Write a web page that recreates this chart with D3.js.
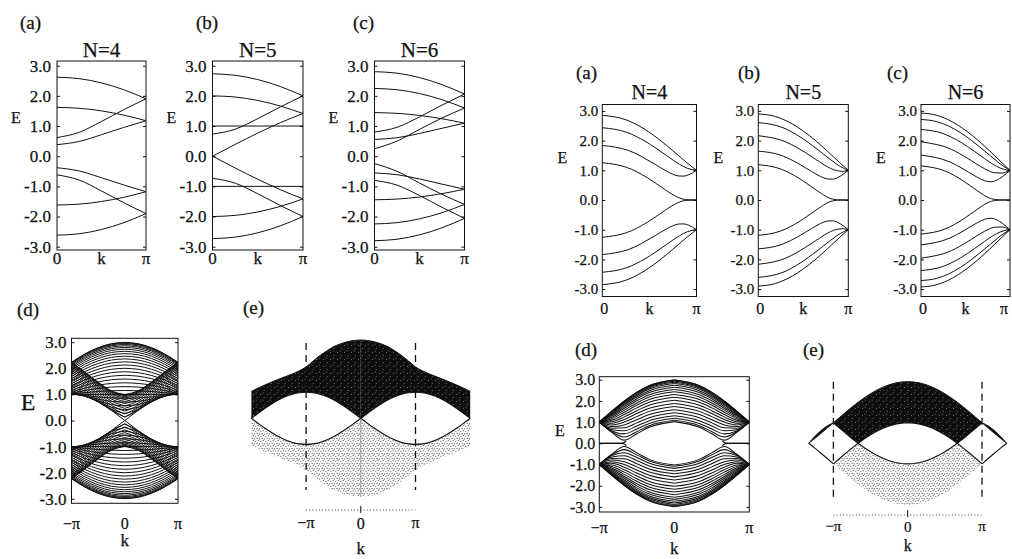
<!DOCTYPE html>
<html>
<head>
<meta charset="utf-8">
<script src="https://cdn.jsdelivr.net/npm/d3@7"></script>
<style>
  body { margin: 0; background: #fff; }
  svg { display: block; }
  svg text { stroke: #111; stroke-width: 0.25px; }
</style>
</head>
<body>
<svg id="fig" width="1012" height="559"></svg>
<script>
// ---------- band data (energies in units of t, k in units of pi) ----------

// common k/pi sample grid for the armchair tables
const kArm = [0, 0.25, 0.5, 0.75, 1];

// armchair ribbons: conduction bands, valence bands are their mirror E -> -E
const armN4 = [
  [2.618, 2.571, 2.430, 2.204, 1.902],
  [1.618, 1.589, 1.502, 1.362, 1.176],
  [0.382, 0.490, 0.713, 0.953, 1.176],
  [0.618, 0.792, 1.153, 1.543, 1.902]
];
const armN5 = [
  [2.732, 2.683, 2.540, 2.308, 2.000],
  [2.000, 1.962, 1.848, 1.663, 1.414],
  [1.000, 1.000, 1.000, 1.000, 1.000],
  [0.000, 0.390, 0.765, 1.111, 1.414],
  [0.732, 0.894, 1.245, 1.635, 2.000]
];
const armN6 = [
  [2.802, 2.753, 2.607, 2.372, 2.061],
  [2.246, 2.203, 2.077, 1.872, 1.598],
  [1.445, 1.421, 1.352, 1.241, 1.095],
  [0.555, 0.613, 0.754, 0.926, 1.095],
  [0.246, 0.500, 0.889, 1.265, 1.598],
  [0.802, 0.958, 1.303, 1.694, 2.061]
];

// zigzag ribbons: [k/pi, E] points of each conduction band
const zigN4 = [
  [[0,2.851],[0.2515,2.700],[0.410,2.459],[0.580,2.095],[0.683,1.836],[0.811,1.490],[0.892,1.271],[1,1.0]],
  [[0,2.433],[0.258,2.281],[0.454,1.980],[0.681,1.500],[0.818,1.206],[0.905,1.064],[1,1.0]],
  [[0,1.837],[0.274,1.672],[0.555,1.212],[0.677,0.981],[0.753,0.863],[0.811,0.808],[0.8635,0.804],[0.919,0.852],[0.957,0.913],[1,1.0]],
  [[0,1.255],[0.266,1.090],[0.347,0.981],[0.478,0.748],[0.582,0.532],[0.671,0.338],[0.7205,0.231],[0.738,0.200],[0.769,0.144],[0.824,0.064],[0.882,0.014],[1,0]]
];
const zigN5 = [
  [[0,2.899],[0.188,2.814],[0.319,2.655],[0.437,2.452],[0.650,1.963],[0.765,1.652],[0.898,1.276],[1,1]],
  [[0,2.607],[0.2746,2.434],[0.4637,2.127],[0.651,1.719],[0.7986,1.368],[0.911,1.128],[1,1]],
  [[0,2.164],[0.308,1.954],[0.424,1.777],[0.615,1.415],[0.769,1.1185],[0.8654,0.993],[0.944,0.966],[1,1]],
  [[0,1.646],[0.2555,1.502],[0.360,1.3655],[0.5886,0.968],[0.693,0.790],[0.7625,0.712],[0.8208,0.6995],[0.8829,0.755],[0.9467,0.873],[1,1]],
  [[0,1.190],[0.2486,1.044],[0.3516,0.9056],[0.5496,0.535],[0.6633,0.292],[0.715,0.188],[0.7264,0.167],[0.764,0.103],[0.8233,0.033],[0.882,0.005],[1,0]]
];
const zigN6 = [
  [[0,2.926],[0.151,2.871],[0.3048,2.705],[0.4238,2.503],[0.593,2.131],[0.7725,1.650],[0.907,1.262],[1,1]],
  [[0,2.712],[0.171,2.643],[0.3142,2.484],[0.4433,2.268],[0.696,1.698],[0.8636,1.281],[0.9316,1.127],[1,1]],
  [[0,2.377],[0.2554,2.230],[0.4106,2.008],[0.5255,1.794],[0.6686,1.493],[0.8495,1.134],[0.940,1.023],[1,1]],
  [[0,1.957],[0.3436,1.703],[0.5183,1.413],[0.7154,1.052],[0.8254,0.918],[0.914,0.908],[0.9505,0.935],[1,1]],
  [[0,1.512],[0.3228,1.283],[0.4717,1.051],[0.6338,0.761],[0.7198,0.643],[0.7837,0.614],[0.8482,0.663],[0.9192,0.795],[1,1]],
  [[0,1.147],[0.2663,0.981],[0.374,0.828],[0.5488,0.491],[0.6667,0.241],[0.7037,0.169],[0.718,0.143],[0.7617,0.076],[0.823,0.020],[0.9,0.003],[1,0]]
];

// wide armchair ribbon, sampled on kArm (0..pi), mirrored to -pi..0
const armWide = [
  [2.994, 2.943, 2.793, 2.550, 2.231],
  [2.978, 2.927, 2.776, 2.535, 2.216],
  [2.950, 2.899, 2.749, 2.509, 2.191],
  [2.911, 2.861, 2.712, 2.473, 2.157],
  [2.862, 2.812, 2.664, 2.427, 2.113],
  [2.802, 2.753, 2.607, 2.372, 2.061],
  [2.732, 2.683, 2.540, 2.308, 2.000],
  [2.652, 2.605, 2.463, 2.235, 1.932],
  [2.564, 2.517, 2.378, 2.154, 1.856],
  [2.466, 2.420, 2.285, 2.067, 1.775],
  [2.360, 2.316, 2.185, 1.973, 1.688],
  [2.247, 2.204, 2.078, 1.873, 1.598],
  [2.127, 2.086, 1.965, 1.770, 1.506],
  [2.000, 1.962, 1.848, 1.663, 1.414],
  [1.868, 1.832, 1.726, 1.555, 1.324],
  [1.731, 1.698, 1.602, 1.447, 1.239],
  [1.590, 1.561, 1.477, 1.341, 1.161],
  [1.445, 1.421, 1.352, 1.240, 1.095],
  [1.298, 1.280, 1.229, 1.148, 1.043],
  [1.149, 1.140, 1.111, 1.066, 1.011],
  [1.000, 1.000, 1.000, 1.000, 1.000],
  [0.851, 0.864, 0.901, 0.953, 1.011],
  [0.702, 0.734, 0.817, 0.928, 1.043],
  [0.555, 0.613, 0.754, 0.926, 1.095],
  [0.410, 0.508, 0.717, 0.947, 1.161],
  [0.269, 0.429, 0.708, 0.987, 1.239],
  [0.132, 0.387, 0.725, 1.043, 1.324],
  [0.000, 0.390, 0.765, 1.111, 1.414],
  [0.127, 0.433, 0.822, 1.186, 1.506],
  [0.247, 0.501, 0.890, 1.265, 1.598],
  [0.360, 0.580, 0.963, 1.345, 1.688],
  [0.466, 0.664, 1.037, 1.424, 1.775],
  [0.564, 0.746, 1.111, 1.499, 1.856],
  [0.652, 0.823, 1.181, 1.570, 1.932],
  [0.732, 0.894, 1.245, 1.635, 2.000],
  [0.802, 0.958, 1.303, 1.693, 2.061],
  [0.862, 1.013, 1.354, 1.744, 2.113],
  [0.911, 1.059, 1.396, 1.786, 2.157],
  [0.950, 1.095, 1.430, 1.819, 2.191],
  [0.978, 1.121, 1.454, 1.843, 2.216],
  [0.994, 1.137, 1.469, 1.858, 2.231]
];

// wide zigzag ribbon
const kZig = [0, 1/3, 1/2, 2/3, 5/6, 1];
const zigWide = [
  [2.993, 2.725, 2.408, 1.994, 1.514, 1],
  [2.970, 2.704, 2.388, 1.978, 1.502, 1],
  [2.933, 2.669, 2.355, 1.950, 1.483, 1],
  [2.882, 2.620, 2.310, 1.911, 1.457, 1],
  [2.816, 2.557, 2.252, 1.862, 1.424, 1],
  [2.738, 2.482, 2.183, 1.802, 1.383, 1],
  [2.646, 2.394, 2.101, 1.732, 1.336, 1],
  [2.542, 2.295, 2.008, 1.652, 1.283, 1],
  [2.427, 2.184, 1.905, 1.564, 1.224, 1],
  [2.302, 2.064, 1.792, 1.466, 1.160, 1],
  [2.168, 1.934, 1.670, 1.360, 1.091, 1],
  [2.027, 1.797, 1.540, 1.247, 1.019, 1],
  [1.881, 1.654, 1.402, 1.127, 0.943, 1],
  [1.732, 1.506, 1.259, 1.000, 0.866, 1],
  [1.583, 1.357, 1.112, 0.868, 0.789, 1],
  [1.438, 1.209, 0.963, 0.731, 0.713, 1],
  [1.302, 1.067, 0.814, 0.590, 0.642, 1],
  [1.182, 0.938, 0.672, 0.445, 0.579, 1],
  [1.085, 0.831, 0.545, 0.298, 0.547, 1],
  [1.022, 0.758, 0.451, 0.149, 0.514, 1]
];
// flat edge-state band
const zigEdge = [[0.64, 0.10], [0.68, 0.02], [0.72, 0], [1, 0]];

// extended-zone projected bands, armchair (k/pi from 0 to 2, mirrored)
const eArmK    = [0, 0.125, 0.25, 0.375, 0.5, 0.625, 0.75, 0.875, 1, 1.125, 1.25, 1.375, 1.5, 1.625, 1.75, 1.875, 2];
const eArmTop  = [3.00, 2.98, 2.93, 2.85, 2.74, 2.58, 2.40, 2.19, 1.97, 1.82, 1.70, 1.60, 1.50, 1.39, 1.28, 1.16, 1.03];
const eArmArch = [0, 0.195, 0.383, 0.556, 0.707, 0.831, 0.924, 0.981, 1.0, 0.981, 0.924, 0.831, 0.707, 0.556, 0.383, 0.195, 0];

// extended-zone projected bands, zigzag (k/pi from 0 to 1, mirrored)
const eZigK   = [0, 0.0833, 0.1667, 0.25, 0.3333, 0.4167, 0.5, 0.5833, 0.6667, 0.75, 0.8333, 0.9167, 1];
const eZigTop = [3, 2.983, 2.932, 2.848, 2.732, 2.587, 2.414, 2.218, 2.0, 1.765, 1.518, 1.261, 1.0];
const eZigLow = [1, 0.983, 0.932, 0.848, 0.732, 0.587, 0.414, 0.218, 0, 0.235, 0.482, 0.739, 1.0];
// beyond the zone boundary (k/pi from 1 to 4/3)
const eOutK      = [1, 1.0833, 1.1667, 1.25, 1.3333];
const eOutTop    = [1.0, 0.85, 0.62, 0.34, 0];
const eOutArc    = [1.0, 0.739, 0.482, 0.235, 0];
const eOutLower  = [-1.0, -0.739, -0.482, -0.235, 0];

const eTicks = [-3, -2, -1, 0, 1, 2, 3];

// ---------- drawing ----------
const serif = '"Liberation Serif","DejaVu Serif",serif';
const ink = "#111";
const svg = d3.select("#fig");
const defs = svg.append("defs");

// dense dark fill with light specks
const darkPat = defs.append("pattern").attr("id", "darkFill")
  .attr("patternUnits", "userSpaceOnUse").attr("width", 7).attr("height", 7);
darkPat.append("rect").attr("width", 7).attr("height", 7).attr("fill", "#0f0f0f");
[[1.5, 2.5], [5.2, 5.5], [4.1, 0.9]].forEach(([cx, cy]) =>
  darkPat.append("circle").attr("cx", cx).attr("cy", cy).attr("r", 0.5).attr("fill", "#8a8a8a"));

// light stipple fill
const dotPat = defs.append("pattern").attr("id", "dotFill")
  .attr("patternUnits", "userSpaceOnUse").attr("width", 5).attr("height", 5);
dotPat.append("rect").attr("width", 5).attr("height", 5).attr("fill", "#fff");
[[0.8, 1.2], [3.2, 0.6], [2.1, 3.4], [4.3, 3.9]].forEach(([cx, cy]) =>
  dotPat.append("circle").attr("cx", cx).attr("cy", cy).attr("r", 0.55).attr("fill", "#3a3a3a"));

function txt(x, y, s, size, anchor = "middle") {
  return svg.append("text").attr("x", x).attr("y", y).attr("text-anchor", anchor)
    .attr("font-size", size).attr("font-family", serif).attr("fill", ink).text(s);
}

let clipCount = 0;
function frame(o) {
  const x = d3.scaleLinear().domain(o.k).range([o.x0, o.x1]);
  const y = d3.scaleLinear().domain([-3, 3]).range([o.yN3, o.yP3]);
  const g = svg.append("g");
  const id = "clip" + (clipCount++);
  defs.append("clipPath").attr("id", id).append("rect")
    .attr("x", o.x0).attr("y", o.yTop).attr("width", o.x1 - o.x0).attr("height", o.yBot - o.yTop);
  const plot = g.append("g").attr("clip-path", `url(#${id})`);

  const yl = g.append("g").attr("transform", `translate(${o.x0},0)`)
    .call(d3.axisLeft(y).tickValues(eTicks).tickFormat(d => d.toFixed(1)).tickSize(-3).tickPadding(o.pad));
  yl.attr("font-family", serif).attr("font-size", o.fs);
  yl.select(".domain").remove();
  yl.selectAll("text").attr("fill", ink);
  yl.selectAll("line").attr("stroke", ink);

  const yr = g.append("g").attr("transform", `translate(${o.x1},0)`)
    .call(d3.axisRight(y).tickValues(eTicks).tickFormat("").tickSize(-3));
  yr.select(".domain").remove();
  yr.selectAll("line").attr("stroke", ink);

  g.append("rect").attr("x", o.x0).attr("y", o.yTop)
    .attr("width", o.x1 - o.x0).attr("height", o.yBot - o.yTop)
    .attr("fill", "none").attr("stroke", ink).attr("stroke-width", 1);
  return { x, y, plot };
}

function bandPath(p, pts, w) {
  p.plot.append("path")
    .attr("d", d3.line().x(d => p.x(d[0])).y(d => p.y(d[1])).curve(d3.curveMonotoneX)(pts))
    .attr("fill", "none").attr("stroke", ink).attr("stroke-width", w);
}

function drawBands(p, bands, mirrorK, w) {
  bands.forEach(pts => {
    const v = [pts, pts.map(([k, E]) => [k, -E])];
    if (mirrorK) v.push(...v.map(a => a.map(([k, E]) => [-k, E]).reverse()));
    v.forEach(a => bandPath(p, a, w));
  });
}

const onGrid = (rows, grid) => rows.map(r => r.map((E, i) => [grid[i], E]));

// ---- top row, left group (armchair) ----
const armTop = [
  { tag: "(a)", tagX: 20,  title: "N=4", x0: 57,    x1: 146,   data: armN4 },
  { tag: "(b)", tagX: 196, title: "N=5", x0: 212.5, x1: 303,   data: armN5 },
  { tag: "(c)", tagX: 353, title: "N=6", x0: 374.5, x1: 464.5, data: armN6 }
];
armTop.forEach(c => {
  const p = frame({ k: [0, 1], x0: c.x0, x1: c.x1, yTop: 61, yBot: 250, yP3: 65.7, yN3: 246.7, fs: 17, pad: 6 });
  drawBands(p, onGrid(c.data, kArm), false, 1);
  txt(c.tagX, 29, c.tag, 19, "start");
  txt((c.x0 + c.x1) / 2, 57, c.title, 21);
  txt(c.x0 - 41, 123, "E", 16);
  txt(c.x0, 264, "0", 17);
  txt((c.x0 + c.x1) / 2, 264, "k", 17);
  txt(c.x1, 264, "\u03c0", 17);
});

// ---- top row, right group (zigzag) ----
const zigTop = [
  { tag: "(a)", tagX: 576, title: "N=4", x0: 602.3, x1: 696.5, piX: 696.5, data: zigN4 },
  { tag: "(b)", tagX: 738, title: "N=5", x0: 758.3, x1: 848.3, piX: 848.3, data: zigN5 },
  { tag: "(c)", tagX: 887, title: "N=6", x0: 921,   x1: 1010,  piX: 1004,  data: zigN6 }
];
zigTop.forEach(c => {
  const p = frame({ k: [0, 1], x0: c.x0, x1: c.x1, yTop: 104.5, yBot: 296.5, yP3: 110.9, yN3: 289.1, fs: 15, pad: 4 });
  drawBands(p, c.data, false, 1);
  txt(c.tagX, 79, c.tag, 19, "start");
  txt((c.x0 + c.x1) / 2, 98.5, c.title, 20);
  txt(c.x0 - 40, 163, "E", 16);
  txt(c.x0 + 2, 314, "0", 16);
  txt((c.x0 + c.x1) / 2, 314, "k", 16);
  txt(c.piX, 314, "\u03c0", 16);
});

// ---- (d) wide armchair ribbon ----
{
  const p = frame({ k: [-1, 1], x0: 71.5, x1: 178, yTop: 338.3, yBot: 503.3, yP3: 342.2, yN3: 498.8, fs: 17, pad: 5 });
  drawBands(p, onGrid(armWide, kArm), true, 1.0);
  txt(17, 316, "(d)", 19, "start");
  txt(28, 410, "E", 24);
  txt(71.5, 529, "\u2212\u03c0", 16);
  txt(124.75, 529, "0", 16);
  txt(178, 529, "\u03c0", 16);
  txt(124.75, 546, "k", 17);
}

// ---- (d) wide zigzag ribbon ----
{
  const p = frame({ k: [-1, 1], x0: 599.3, x1: 749.3, yTop: 376.7, yBot: 512, yP3: 379.7, yN3: 506.9, fs: 16, pad: 4 });
  drawBands(p, onGrid(zigWide, kZig), true, 1.05);
  drawBands(p, [zigEdge], true, 1.2);
  txt(575, 356, "(d)", 19, "start");
  txt(560, 436, "E", 16);
  txt(599.3, 533, "\u2212\u03c0", 16);
  txt(674.3, 533, "0", 16);
  txt(749.3, 533, "\u03c0", 16);
  txt(674.3, 554, "k", 17);
}

// ---- (e) armchair, extended zone ----
{
  const cx = 360.8, pi = 54.7, y0 = 418.3, s = 26.1;
  const x = d3.scaleLinear().domain([-2, 2]).range([cx - 2 * pi, cx + 2 * pi]);
  const y = d3.scaleLinear().domain([-3, 3]).range([y0 + 3 * s, y0 - 3 * s]);
  const g = svg.append("g");
  const half = eArmK.map((k, i) => ({ k, t: eArmTop[i], a: eArmArch[i] }));
  const halves = [half, half.map(d => ({ k: -d.k, t: d.t, a: d.a })).reverse()];
  const curve = d3.curveMonotoneX;
  halves.forEach(h => {
    g.append("path").attr("d", d3.area().x(d => x(d.k)).y0(d => y(d.a)).y1(d => y(d.t)).curve(curve)(h))
      .attr("fill", "url(#darkFill)");
    g.append("path").attr("d", d3.area().x(d => x(d.k)).y0(d => y(-d.a)).y1(d => y(-d.t)).curve(curve)(h))
      .attr("fill", "url(#dotFill)");
  });
  halves.forEach(h => {
    g.append("path").attr("d", d3.line().x(d => x(d.k)).y(d => y(d.t)).curve(curve)(h))
      .attr("fill", "none").attr("stroke", ink).attr("stroke-width", 1);
    [1, -1].forEach(sg => g.append("path")
      .attr("d", d3.line().x(d => x(d.k)).y(d => y(sg * d.a)).curve(curve)(h))
      .attr("fill", "none").attr("stroke", ink).attr("stroke-width", 1.1));
  });
  g.append("line").attr("x1", x(0)).attr("x2", x(0)).attr("y1", y(-eArmTop[0])).attr("y2", y(0))
    .attr("stroke", "#555").attr("stroke-width", 0.6);
  [-1, 1].forEach(k => g.append("line").attr("x1", x(k)).attr("x2", x(k)).attr("y1", 343).attr("y2", 490)
    .attr("stroke", ink).attr("stroke-width", 1.3).attr("stroke-dasharray", "7,5"));
  g.append("line").attr("x1", x(-1)).attr("x2", x(1)).attr("y1", 510).attr("y2", 510)
    .attr("stroke", "#333").attr("stroke-width", 0.9).attr("stroke-dasharray", "1,2.2");
  g.append("line").attr("x1", x(0)).attr("x2", x(0)).attr("y1", 506).attr("y2", 513)
    .attr("stroke", ink).attr("stroke-width", 1);
  txt(243, 314, "(e)", 19, "start");
  txt(x(-1), 528, "\u2212\u03c0", 16);
  txt(x(0), 529, "0", 16);
  txt(x(1), 528, "\u03c0", 16);
  txt(x(0), 554, "k", 17);
}

// ---- (e) zigzag, extended zone ----
{
  const cx = 907.7, pi = 74.3, y0 = 443.3, s = 20.55;
  const x = d3.scaleLinear().domain([-4 / 3, 4 / 3]).range([cx - 4 / 3 * pi, cx + 4 / 3 * pi]);
  const y = d3.scaleLinear().domain([-3, 3]).range([y0 + 3 * s, y0 - 3 * s]);
  const g = svg.append("g");
  const half = eZigK.map((k, i) => ({ k, u: eZigTop[i], l: eZigLow[i] }));
  const full = [...half.slice(1).reverse().map(d => ({ k: -d.k, u: d.u, l: d.l })), ...half];
  const lin = d3.curveLinear;
  g.append("path").attr("d", d3.area().x(d => x(d.k)).y0(d => y(d.l)).y1(d => y(d.u)).curve(lin)(full))
    .attr("fill", "url(#darkFill)");
  g.append("path").attr("d", d3.area().x(d => x(d.k)).y0(d => y(-d.l)).y1(d => y(-d.u)).curve(lin)(full))
    .attr("fill", "url(#dotFill)");
  g.append("path").attr("d", d3.line().x(d => x(d.k)).y(d => y(d.u)).curve(d3.curveMonotoneX)(full))
    .attr("fill", "none").attr("stroke", ink).attr("stroke-width", 1);
  [1, -1].forEach(sg => g.append("path")
    .attr("d", d3.line().x(d => x(d.k)).y(d => y(sg * d.l)).curve(lin)(full))
    .attr("fill", "none").attr("stroke", ink).attr("stroke-width", 1.1));

  const outer = eOutK.map((k, i) => ({ k, t: eOutTop[i], a: eOutArc[i], b: eOutLower[i] }));
  [outer, outer.map(d => ({ ...d, k: -d.k })).reverse()].forEach(h => {
    g.append("path").attr("d", d3.area().x(d => x(d.k)).y0(d => y(d.a)).y1(d => y(d.t)).curve(d3.curveMonotoneX)(h))
      .attr("fill", "#0f0f0f").attr("stroke", ink).attr("stroke-width", 0.8);
    g.append("path").attr("d", d3.line().x(d => x(d.k)).y(d => y(d.b)).curve(d3.curveMonotoneX)(h))
      .attr("fill", "none").attr("stroke", ink).attr("stroke-width", 1.1);
  });

  [-1, 1].forEach(k => g.append("line").attr("x1", x(k)).attr("x2", x(k)).attr("y1", 381.7).attr("y2", 496.7)
    .attr("stroke", ink).attr("stroke-width", 1.3).attr("stroke-dasharray", "7,5"));
  g.append("line").attr("x1", x(-1)).attr("x2", x(1)).attr("y1", 515).attr("y2", 515)
    .attr("stroke", "#333").attr("stroke-width", 0.9).attr("stroke-dasharray", "1,2.2");
  g.append("line").attr("x1", x(0)).attr("x2", x(0)).attr("y1", 510).attr("y2", 517)
    .attr("stroke", ink).attr("stroke-width", 1);
  txt(803, 356, "(e)", 19, "start");
  txt(x(-1), 531, "\u2212\u03c0", 15);
  txt(x(0), 532, "0", 15);
  txt(x(1), 531, "\u03c0", 15);
  txt(x(0), 551, "k", 16);
}
</script>
</body>
</html>
